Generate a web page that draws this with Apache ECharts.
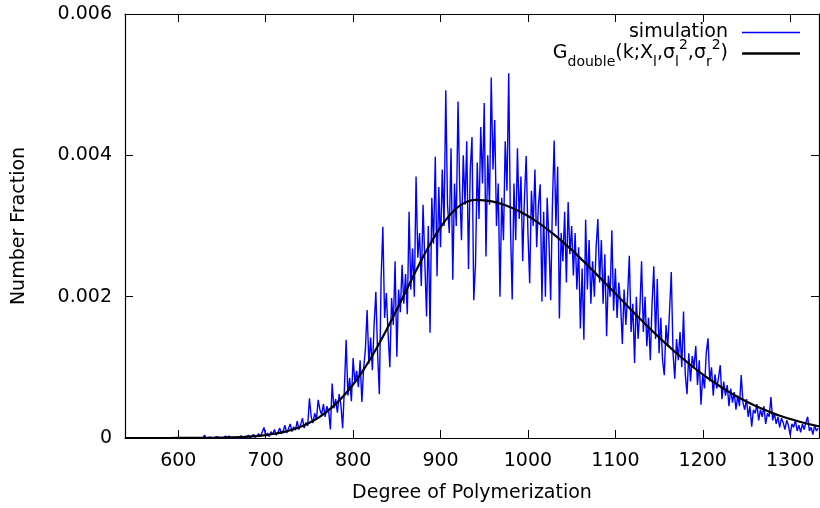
<!DOCTYPE html>
<html><head><meta charset="utf-8">
<script src="https://cdn.jsdelivr.net/npm/echarts@6/dist/echarts.min.js"></script>
<style>html,body{margin:0;padding:0;background:#fff}#c{width:820px;height:508px}</style>
</head><body><div id="c"></div>
<script>
// ---- data ----
const xTicks = [600,700,800,900,1000,1100,1200,1300];
const xTickLabels = ['600','700','800','900','1000','1100','1200','1300'];
const yTicks = [0,0.002,0.004,0.006];
const yTickLabels = ['0','0.002','0.004','0.006'];
const xMin = 539, xMax = 1333;

// simulation: number fraction at k = 600, 602, 604, ... 1332
const simStartK = 600, simStepK = 2;
const simValues = [
/*600*/ 0,0,0,0,0,0,0,0,0,0,
/*620*/ 0,0,0,0,0,0.00004,0,0,0.00001,0,
/*640*/ 0,0,0.00002,0,0,0.00001,0,0.00003,0,0.00003,
/*660*/ 0,0.00001,0,0.00002,0,0.00001,0.00003,0,0.00002,0.00001,
/*680*/ 0.00004,0,0.00002,0.00005,0.00001,0.00003,0.00006,0.00002,0.00004,0.00015,
/*700*/ 0.00003,0.00007,0.00002,0.00009,0.00005,0.00012,0.00004,0.00008,0.00014,0.00006,
/*720*/ 0.00010,0.00018,0.00007,0.00013,0.00020,0.00009,0.00016,0.00011,0.00024,0.00012,
/*740*/ 0.00019,0.00028,0.00014,0.00022,0.00017,0.00056,0.00030,0.00021,0.00035,0.00026,
/*760*/ 0.00054,0.00040,0.00033,0.00048,0.00030,0.00045,0.00038,0.00012,0.00077,0.00042,
/*780*/ 0.00055,0.00036,0.00062,0.00047,0.00014,0.00070,0.00139,0.00060,0.00085,0.00052,
/*800*/ 0.00113,0.00078,0.00095,0.00072,0.00110,0.00051,0.00098,0.00125,0.00181,0.00105,
/*820*/ 0.00142,0.00096,0.00160,0.00207,0.00120,0.00062,0.00225,0.00299,0.00170,0.00205,
/*840*/ 0.00148,0.00100,0.00198,0.00160,0.00250,0.00115,0.00210,0.00178,0.00245,0.00190,
/*860*/ 0.00232,0.00175,0.00320,0.00210,0.00268,0.00200,0.00370,0.00255,0.00290,0.00215,
/*880*/ 0.00330,0.00250,0.00172,0.00300,0.00149,0.00340,0.00275,0.00398,0.00229,0.00355,
/*900*/ 0.00270,0.00380,0.00300,0.00492,0.00330,0.00290,0.00410,0.00224,0.00360,0.00300,
/*920*/ 0.00476,0.00350,0.00280,0.00400,0.00330,0.00420,0.00239,0.00380,0.00426,0.00195,
/*940*/ 0.00245,0.00390,0.00310,0.00440,0.00360,0.00474,0.00257,0.00400,0.00330,0.00510,
/*960*/ 0.00380,0.00450,0.00300,0.00360,0.00200,0.00340,0.00280,0.00420,0.00350,0.00516,
/*980*/ 0.00300,0.00196,0.00360,0.00280,0.00410,0.00310,0.00370,0.00250,0.00340,0.00399,
/*1000*/ 0.00290,0.00219,0.00350,0.00300,0.00380,0.00270,0.00330,0.00359,0.00193,0.00320,
/*1020*/ 0.00200,0.00340,0.00280,0.00195,0.00330,0.00421,0.00300,0.00384,0.00169,0.00290,
/*1040*/ 0.00250,0.00320,0.00220,0.00334,0.00260,0.00300,0.00230,0.00290,0.00210,0.00270,
/*1060*/ 0.00155,0.00240,0.00139,0.00309,0.00210,0.00280,0.00190,0.00250,0.00200,0.00270,
/*1080*/ 0.00310,0.00220,0.00280,0.00190,0.00260,0.00144,0.00230,0.00200,0.00294,0.00180,
/*1100*/ 0.00240,0.00170,0.00220,0.00190,0.00133,0.00210,0.00160,0.00200,0.00258,0.00150,
/*1120*/ 0.00190,0.00106,0.00200,0.00140,0.00180,0.00250,0.00150,0.00200,0.00130,0.00170,
/*1140*/ 0.00110,0.00190,0.00243,0.00140,0.00225,0.00120,0.00170,0.00110,0.00089,0.00160,
/*1160*/ 0.00130,0.00180,0.00235,0.00120,0.00084,0.00140,0.00110,0.00150,0.00100,0.00179,
/*1180*/ 0.00090,0.00062,0.00120,0.00080,0.00116,0.00100,0.00130,0.00075,0.00110,0.00047,
/*1200*/ 0.00090,0.00070,0.00120,0.00141,0.00080,0.00100,0.00060,0.00090,0.00070,0.00085,
/*1220*/ 0.00103,0.00055,0.00080,0.00060,0.00075,0.00045,0.00070,0.00050,0.00065,0.00040,
/*1240*/ 0.00060,0.00045,0.00089,0.00050,0.00040,0.00055,0.00030,0.00045,0.00016,0.00040,
/*1260*/ 0.00035,0.00048,0.00025,0.00040,0.00030,0.00045,0.00020,0.00035,0.00030,0.00058,
/*1280*/ 0.00025,0.00035,0.00020,0.00030,0.00015,0.00028,0.00022,0.00012,0.00025,0.00018,
/*1300*/ 0.00004,0.00020,0.00015,0.00025,0.00010,0.00018,0.00008,0.00020,0.00012,0.00022,
/*1320*/ 0.00030,0.00010,0.00015,0.00005,0.00018,0.00010,0.00014
];

// fitted curve G_double, read at these k
const fitK = [540,560,580,600,620,640,660,680,700,710,720,730,740,750,760,770,780,790,800,
  810,820,830,840,850,860,870,880,890,900,910,920,930,940,950,960,970,980,990,1000,
  1010,1020,1030,1040,1050,1060,1070,1080,1090,1100,1110,1120,1130,1140,1150,1160,1170,1180,1190,1200,
  1210,1220,1230,1240,1250,1260,1270,1280,1290,1300,1310,1320,1330,1340];
const fitValues = [0,0.0000001,0.0000002,0.0000005,0.0000014,0.0000035,0.0000086,0.0000195,0.000042,0.000060,
  0.000084,0.000117,0.000160,0.000215,0.000285,0.000373,0.000479,0.000607,0.000757,
  0.000930,0.001125,0.001340,0.001573,0.001818,0.002069,0.002320,0.002561,0.002785,0.002983,0.003147,
  0.003269,0.003344,0.003370,0.003363,0.003344,0.003311,0.003266,0.003209,0.003141,
  0.003062,0.002974,0.002877,0.002772,0.002662,0.002545,0.002422,0.002298,0.002171,0.002044,
  0.001916,0.001790,0.001665,0.001543,0.001424,0.001310,0.001199,0.001094,0.000994,0.000900,
  0.000811,0.000729,0.000652,0.000581,0.000516,0.000456,0.000402,0.000352,0.000308,0.000268,
  0.000233,0.000201,0.000173,0.000149];

// ---- chart ----
const FONT = 'DejaVu Sans';
const FS = 19;
const simData = simValues.map((v, i) => [simStartK + simStepK * i, v]);
const fitData = fitK.map((k, i) => [k, fitValues[i]]);
const pick = (ticks, labels) => v => { const i = ticks.findIndex(t => Math.abs(t - v) < 1e-9); return i >= 0 ? labels[i] : ''; };

const axisLineStyle = {color: '#000', width: 1.2};
const chart = echarts.init(document.getElementById('c'), null, {renderer: 'canvas'});
chart.setOption({
  animation: false,
  backgroundColor: '#fff',
  textStyle: {fontFamily: FONT},
  grid: {left: 125, right: 1, top: 14, bottom: 70, containLabel: false},
  xAxis: [{
    type: 'value', min: xMin, max: xMax, position: 'bottom',
    axisLine: {show: true, onZero: false, lineStyle: axisLineStyle},
    axisTick: {show: true, inside: true, length: 8, customValues: xTicks, lineStyle: {color: '#000', width: 1}},
    axisLabel: {customValues: xTicks, margin: 14, fontSize: FS, color: '#000', fontFamily: FONT,
      formatter: pick(xTicks, xTickLabels)},
    splitLine: {show: false},
    name: 'Degree of Polymerization', nameLocation: 'middle', nameGap: 46,
    nameTextStyle: {fontSize: FS, color: '#000', fontFamily: FONT}
  }, {
    type: 'value', min: xMin, max: xMax, position: 'top',
    axisLine: {show: true, onZero: false, lineStyle: axisLineStyle},
    axisTick: {show: true, inside: true, length: 8, customValues: xTicks, lineStyle: {color: '#000', width: 1}},
    axisLabel: {show: false}, splitLine: {show: false}
  }],
  yAxis: [{
    type: 'value', min: 0, max: 0.006, interval: 0.002, position: 'left',
    axisLine: {show: true, onZero: false, lineStyle: axisLineStyle},
    axisTick: {show: true, inside: true, length: 8, customValues: yTicks, lineStyle: {color: '#000', width: 1}},
    axisLabel: {customValues: yTicks, margin: 13, fontSize: FS, color: '#000', fontFamily: FONT,
      formatter: pick(yTicks, yTickLabels)},
    splitLine: {show: false},
    name: 'Number Fraction', nameLocation: 'middle', nameGap: 96, nameRotate: 90,
    nameTextStyle: {fontSize: FS, color: '#000', fontFamily: FONT}
  }, {
    type: 'value', min: 0, max: 0.006, interval: 0.002, position: 'right',
    axisLine: {show: true, onZero: false, lineStyle: axisLineStyle},
    axisTick: {show: true, inside: true, length: 8, customValues: yTicks, lineStyle: {color: '#000', width: 1}},
    axisLabel: {show: false}, splitLine: {show: false}
  }],
  legend: [{
    data: [{name: 'simulation', icon: 'rect', itemStyle: {color: '#0000ff'}}],
    right: 20, top: 23, padding: 0, orient: 'vertical', align: 'right', selectedMode: false,
    itemWidth: 58, itemHeight: 1.5,
    textStyle: {fontSize: FS, color: '#000', fontFamily: FONT, padding: [0, 9, 0, 0]}
  }, {
    data: [{name: 'G_double', icon: 'rect', itemStyle: {color: '#000'}}],
    right: 20, top: 38, padding: 0, orient: 'vertical', align: 'right', selectedMode: false,
    itemWidth: 58, itemHeight: 2.5,
    formatter: () => '{m|G}{sub|double}{m|(k;X}{sub|l}{m|,σ}{sub|l}{sup|2}{m|,σ}{sub|r}{sup|2}{m|)}',
    textStyle: {fontSize: FS, color: '#000', fontFamily: FONT, padding: [0, 9, 0, 0],
      rich: {
        m: {fontSize: FS, fontFamily: FONT, color: '#000', lineHeight: 31, verticalAlign: 'middle'},
        sub: {fontSize: 14, fontFamily: FONT, color: '#000', lineHeight: 14, verticalAlign: 'bottom'},
        sup: {fontSize: 14, fontFamily: FONT, color: '#000', lineHeight: 14, verticalAlign: 'top'}
      }}
  }],
  series: [{
    name: 'simulation', type: 'line', xAxisIndex: 0, yAxisIndex: 0,
    data: simData, showSymbol: false, symbol: 'none', sampling: null,
    lineStyle: {color: '#0000ff', width: 1.4}, itemStyle: {color: '#0000ff'}, z: 2
  }, {
    name: 'G_double', type: 'line', xAxisIndex: 0, yAxisIndex: 0,
    data: fitData, showSymbol: false, symbol: 'none', smooth: 0.3,
    lineStyle: {color: '#000', width: 2.2}, itemStyle: {color: '#000'}, z: 3
  }]
});
</script></body></html>
